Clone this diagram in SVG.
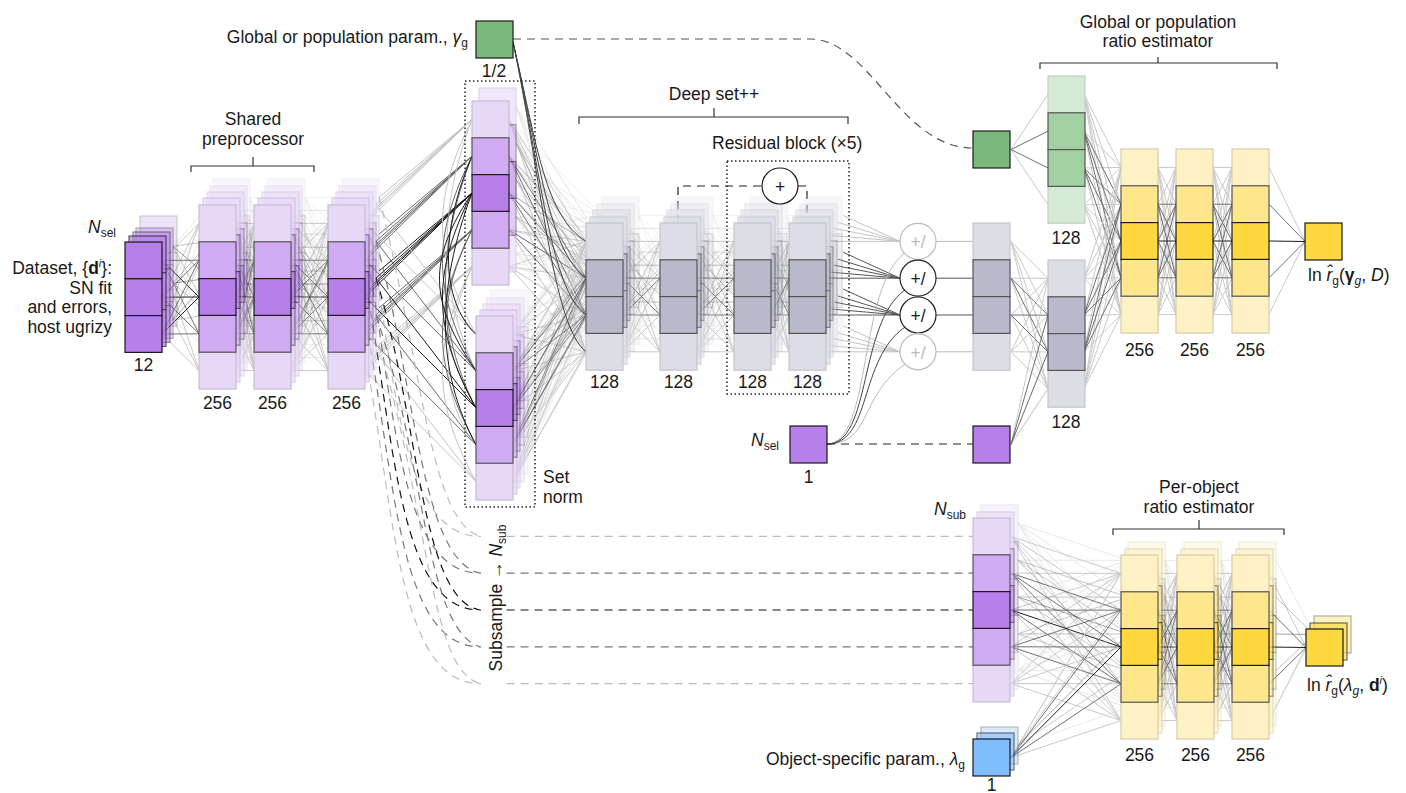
<svg xmlns="http://www.w3.org/2000/svg" xmlns:xlink="http://www.w3.org/1999/xlink" width="1406" height="793" viewBox="0 0 1406 793">
<style>
text{font-family:"Liberation Sans",Arial,sans-serif;font-size:17.5px;fill:#1a1a1a}
.sub{font-size:12px}
.k0,.k1,.k2{fill:none;stroke-width:1;vector-effect:non-scaling-stroke}
.k0{stroke:#c9c9c9}.k1{stroke:#707070}.k2{stroke:#1c1c1c}
.pl{fill:#e7d8f8;stroke:#c6bcd4;stroke-width:1.2}
.pm{fill:#d0abf3;stroke:#555;stroke-width:1.2}
.pd{fill:#b57ee9;stroke:#1a1a1a;stroke-width:1.2}
.gl{fill:#dddde6;stroke:#c5c5ce;stroke-width:1.2}
.gd{fill:#b9b9cc;stroke:#555;stroke-width:1.2}
.rl{fill:#d4ead4;stroke:#c3cfc3;stroke-width:1.2}
.rm{fill:#a2d0a3;stroke:#555;stroke-width:1.2}
.yl{fill:#fef2c4;stroke:#d4ccab;stroke-width:1.2}
.ym{fill:#fde68b;stroke:#555;stroke-width:1.2}
.yd{fill:#fdd93f;stroke:#1a1a1a;stroke-width:1.2}
.gb{fill:#7bb87b;stroke:#1a1a1a;stroke-width:1.2}
.bb{fill:#80bdfd;stroke:#1a1a1a;stroke-width:1.2}
.dot{fill:none;stroke:#222;stroke-width:1.5;stroke-dasharray:1.5 2.5}
.brk{fill:none;stroke:#333;stroke-width:1.2}
.dash{fill:none;stroke-width:1.2;stroke-dasharray:8 6}
.ln{fill:none;stroke-width:1}
.agg circle{fill:#fff;stroke-width:1.2}
</style>
<defs>
<g id="P5"><rect class="pl" width="37" height="36.8"/><rect class="pl" y="147.2" width="37" height="36.8"/><rect class="pm" y="36.8" width="37" height="36.8"/><rect class="pm" y="110.4" width="37" height="36.8"/><rect class="pd" y="73.6" width="37" height="36.8"/></g>
<g id="P3"><rect class="pd" width="37" height="36.8"/><rect class="pd" y="36.8" width="37" height="36.8"/><rect class="pd" y="73.6" width="37" height="36.8"/></g>
<g id="G4"><rect class="gl" width="37" height="36.8"/><rect class="gl" y="110.4" width="37" height="36.8"/><rect class="gd" y="36.8" width="37" height="36.8"/><rect class="gd" y="73.6" width="37" height="36.8"/></g>
<g id="R4"><rect class="rl" width="37" height="36.8"/><rect class="rl" y="110.4" width="37" height="36.8"/><rect class="rm" y="36.8" width="37" height="36.8"/><rect class="rm" y="73.6" width="37" height="36.8"/></g>
<g id="Y5"><rect class="yl" width="37" height="36.8"/><rect class="yl" y="147.2" width="37" height="36.8"/><rect class="ym" y="36.8" width="37" height="36.8"/><rect class="ym" y="110.4" width="37" height="36.8"/><rect class="yd" y="73.6" width="37" height="36.8"/></g>
<g id="F55"><path class="k0" d="M0 18.4L100 18.4M0 18.4L100 55.2M0 18.4L100 92M0 18.4L100 128.8M0 18.4L100 165.6M0 165.6L100 18.4M0 165.6L100 55.2M0 165.6L100 92M0 165.6L100 128.8M0 165.6L100 165.6M0 55.2L100 18.4M0 55.2L100 165.6M0 92L100 18.4M0 92L100 165.6M0 128.8L100 18.4M0 128.8L100 165.6"/><path class="k1" d="M0 55.2L100 55.2M0 55.2L100 92M0 55.2L100 128.8M0 92L100 55.2M0 92L100 128.8M0 128.8L100 55.2M0 128.8L100 92M0 128.8L100 128.8"/><path class="k2" d="M0 92L100 92"/></g>
<g id="F44"><path class="k0" d="M0 18.4L100 18.4M0 18.4L100 55.2M0 18.4L100 92M0 18.4L100 128.8M0 128.8L100 18.4M0 128.8L100 55.2M0 128.8L100 92M0 128.8L100 128.8M0 55.2L100 18.4M0 55.2L100 128.8M0 92L100 18.4M0 92L100 128.8"/><path class="k1" d="M0 55.2L100 55.2M0 55.2L100 92M0 92L100 55.2M0 92L100 92"/></g>
<g id="F54"><path class="k0" d="M0 18.4L100 18.4M0 18.4L100 55.2M0 18.4L100 92M0 18.4L100 128.8M0 165.6L100 18.4M0 165.6L100 55.2M0 165.6L100 92M0 165.6L100 128.8M0 55.2L100 18.4M0 55.2L100 128.8M0 92L100 18.4M0 92L100 128.8M0 128.8L100 18.4M0 128.8L100 128.8"/><path class="k1" d="M0 55.2L100 55.2M0 55.2L100 92M0 92L100 55.2M0 92L100 92M0 128.8L100 55.2M0 128.8L100 92"/></g>
<g id="F35"><path class="k0" d="M0 18.4L100 18.4M0 18.4L100 165.6M0 55.2L100 18.4M0 55.2L100 165.6M0 92L100 18.4M0 92L100 165.6"/><path class="k1" d="M0 18.4L100 55.2M0 18.4L100 128.8M0 55.2L100 55.2M0 55.2L100 128.8M0 92L100 55.2M0 92L100 128.8"/><path class="k2" d="M0 18.4L100 92M0 55.2L100 92M0 92L100 92"/></g>
<g id="F45"><path class="k0" d="M0 18.4L100 18.4M0 18.4L100 55.2M0 18.4L100 92M0 18.4L100 128.8M0 18.4L100 165.6M0 128.8L100 18.4M0 128.8L100 55.2M0 128.8L100 92M0 128.8L100 128.8M0 128.8L100 165.6M0 55.2L100 18.4M0 55.2L100 165.6M0 92L100 18.4M0 92L100 165.6"/><path class="k1" d="M0 55.2L100 55.2M0 55.2L100 92M0 55.2L100 128.8M0 92L100 55.2M0 92L100 92M0 92L100 128.8"/></g>
<g id="F51"><path class="k0" d="M0 18.4L100 18.5M0 165.6L100 18.5"/><path class="k1" d="M0 55.2L100 18.5M0 128.8L100 18.5"/><path class="k2" d="M0 92L100 18.5"/></g>
<g id="F14"><path class="k0" d="M0 18.5L100 18.4M0 18.5L100 128.8"/><path class="k1" d="M0 18.5L100 55.2M0 18.5L100 92"/></g>
<g id="F15"><path class="k0" d="M0 18.5L100 18.4M0 18.5L100 165.6"/><path class="k1" d="M0 18.5L100 55.2M0 18.5L100 128.8"/><path class="k2" d="M0 18.5L100 92"/></g>
</defs>
<rect width="1406" height="793" fill="#fff"/>

<g id="connectors">
<use href="#F35" transform="matrix(.37 -.37 0 1 162 242)"/>
<use href="#F35" transform="matrix(.37 -.42 0 1 173 228)" opacity=".4"/>
<use href="#F55" transform="matrix(.18 0 0 1 236 205)"/>
<use href="#F55" transform="matrix(.18 0 0 1 244 192)" opacity=".45"/>
<use href="#F55" transform="matrix(.18 0 0 1 250 179)" opacity=".25"/>
<use href="#F55" transform="matrix(.37 0 0 1 291 205)"/>
<use href="#F55" transform="matrix(.37 0 0 1 299 192)" opacity=".45"/>
<use href="#F55" transform="matrix(.37 0 0 1 305 179)" opacity=".25"/>
<path class="ln" stroke="#c4c4c4" d="M365 223.4L472 119.4M369 216.4L472 119.4M373 210.4L472 119.4M376 204.4L472 119.4M379 197.4L472 119.4M365 370.6L472 266.6M369 363.6L472 266.6M373 357.6L472 266.6M376 351.6L472 266.6M379 344.6L472 266.6"/>
<path class="ln" stroke="#6a6a6a" d="M365 260.2L472 156.2M369 253.2L472 156.2M373 247.2L472 156.2M376 241.2L472 156.2M379 234.2L472 156.2M365 333.8L472 229.8M369 326.8L472 229.8M373 320.8L472 229.8M376 314.8L472 229.8M379 307.8L472 229.8"/>
<path class="ln" stroke="#1c1c1c" d="M365 297L472 193M369 290L472 193M373 284L472 193M376 278L472 193M379 271L472 193"/>
<path class="ln" stroke="#c4c4c4" d="M365 223.4L476 334.4M376 204.4L476 334.4M365 370.6L476 481.6M376 351.6L476 481.6"/>
<path class="ln" stroke="#6a6a6a" d="M365 260.2L476 371.2M376 241.2L476 371.2M365 333.8L476 444.8M376 314.8L476 444.8"/>
<path class="ln" stroke="#1c1c1c" d="M365 297L476 408M376 278L476 408"/>
<path class="ln" stroke="#c4c4c4" d="M472 119.4C432 200 432 254 476 334.4M472 266.6C432 347 432 401 476 481.6M472 119.4C438 210 438 290 476 371.2M472 266.6C440 340 440 400 476 444.8"/>
<path class="ln" stroke="#6a6a6a" d="M472 156.2C432 236 432 291 476 371.2M472 229.8C432 310 432 364 476 444.8M472 156.2C436 250 436 330 476 408M472 229.8C438 300 438 340 476 408"/>
<path class="ln" stroke="#1c1c1c" d="M472 193C432 273 432 328 476 408M472 193C428 260 428 300 476 371.2M472 193C436 290 436 370 476 444.8M472 156.2C440 230 440 300 476 334.4"/>
<use href="#F54" transform="matrix(.77 1.22 0 1 509 101)"/>
<use href="#F54" transform="matrix(.77 1.22 0 1 516 88)" opacity=".45"/>
<use href="#F54" transform="matrix(.93 .96 0 1 509 101)" opacity=".3"/>
<use href="#F54" transform="matrix(.73 -.93 0 1 513 316)"/>
<use href="#F54" transform="matrix(.73 -.94 0 1 520 304)" opacity=".45"/>
<use href="#F54" transform="matrix(.74 -.93 0 1 528 290)" opacity=".3"/>
<use href="#F54" transform="matrix(.89 -1.19 0 1 513 316)" opacity=".3"/>
<path class="ln" stroke="#444" d="M513 42C538 150 545 215 586 241.4M513 42C540 160 548 250 586 278.2M513 42C541 170 550 290 586 315M513 42C542 180 552 325 586 351.8"/>
<use href="#F44" transform="matrix(.37 0 0 1 623 223)"/>
<use href="#F44" transform="matrix(.37 0 0 1 630 210)" opacity=".45"/>
<use href="#F44" transform="matrix(.37 0 0 1 639 197)" opacity=".25"/>
<use href="#F44" transform="matrix(.37 0 0 1 697 223)"/>
<use href="#F44" transform="matrix(.37 0 0 1 704 210)" opacity=".45"/>
<use href="#F44" transform="matrix(.37 0 0 1 713 197)" opacity=".25"/>
<use href="#F44" transform="matrix(.18 0 0 1 771 223)"/>
<use href="#F44" transform="matrix(.18 0 0 1 778 210)" opacity=".45"/>
<use href="#F44" transform="matrix(.18 0 0 1 787 197)" opacity=".25"/>
<path class="ln" stroke="#c4c4c4" d="M827 241.4L900 241.4M831 235.4L900 241.4M834 228.4L900 241.4M838 222.4L900 241.4M843 215.4L900 241.4M827 351.8L900 351.8M831 345.8L900 351.8M834 338.8L900 351.8M838 332.8L900 351.8M843 325.8L900 351.8"/>
<path class="ln" stroke="#555" d="M827 278.2L900 278.2M831 272.2L900 278.2M834 265.2L900 278.2M838 259.2L900 278.2M843 252.2L900 278.2M827 315L900 315M831 309L900 315M834 302L900 315M838 296L900 315M843 289L900 315"/>
<path class="ln" stroke="#bbb" d="M827 444C872 444 858 286 905 253M827 444C872 444 858 397 905 364"/>
<path class="ln" stroke="#444" d="M827 444C872 444 858 323 905 290M827 444C872 444 858 360 905 327"/>
<path class="ln" stroke="#bbb" d="M936 241.4H973M936 351.8H973"/>
<path class="ln" stroke="#555" d="M936 278.2H973M936 315H973"/>
<use href="#F44" transform="matrix(.37 .37 0 1 1011 223)"/>
<use href="#F14" transform="matrix(.37 -1.66 0 1 1011 426)"/>
<use href="#F14" transform="matrix(.37 -.55 0 1 1011 131)"/>
<use href="#F45" transform="matrix(.37 .73 0 1 1084 76)"/>
<use href="#F45" transform="matrix(.37 -1.11 0 1 1084 260)"/>
<use href="#F55" transform="matrix(.18 0 0 1 1158 149)"/>
<use href="#F55" transform="matrix(.19 0 0 1 1213 149)"/>
<use href="#F51" transform="matrix(.36 .74 0 1 1269 149)"/>
<use href="#F55" transform="matrix(1.1 .37 0 1 1011 518)"/>
<use href="#F55" transform="matrix(1.1 .37 0 1 1018 505)" opacity=".4"/>
<use href="#F15" transform="matrix(1.1 -1.84 0 1 1011 739)"/>
<use href="#F15" transform="matrix(1.1 -1.85 0 1 1018 727)" opacity=".35"/>
<use href="#F55" transform="matrix(.19 0 0 1 1158 555)"/>
<use href="#F55" transform="matrix(.19 0 0 1 1165 542)" opacity=".4"/>
<use href="#F55" transform="matrix(.18 0 0 1 1214 555)"/>
<use href="#F55" transform="matrix(.18 0 0 1 1221 542)" opacity=".4"/>
<use href="#F51" transform="matrix(.37 .74 0 1 1269 555)"/>
<use href="#F51" transform="matrix(.38 .74 0 1 1276 542)" opacity=".4"/>
<path class="dash" stroke="#555" d="M513 39H810C870 39 900 148 973 148"/>
<path class="dash" stroke="#222" d="M827 444H973"/>
<path class="dash" stroke="#222" stroke-dasharray="7 5" d="M678 223V186H762M798 186H807V217"/>
<path class="dash" stroke="#bbb" d="M368 223.4C395 373 400 536.4 480 536.4H973M379 197C425 380 430 520 480 536.4"/>
<path class="dash" stroke="#777" d="M368 260.2C395 410 400 573.2 480 573.2H973M376 241C415 380 420 560 480 573.2"/>
<path class="dash" stroke="#111" d="M368 297C395 447 400 610 480 610H973M376 278C420 420 420 600 480 610"/>
<path class="dash" stroke="#777" d="M368 333.8C395 484 400 646.8 480 646.8H973M376 315C425 460 425 630 480 646.8"/>
<path class="dash" stroke="#bbb" d="M368 370.6C395 520 400 683.6 480 683.6H973M379 345C430 520 430 670 480 683.6"/>
</g>

<g id="input">
<use href="#P3" x="140" y="216" opacity=".22"/>
<use href="#P3" x="136" y="228" opacity=".35"/>
<use href="#P3" x="133" y="232" opacity=".5"/>
<use href="#P3" x="129" y="236" opacity=".7"/>
<use href="#P3" x="125" y="242"/>
</g>
<g id="pp1">
<use href="#P5" x="213" y="179" opacity=".22"/><use href="#P5" x="210" y="186" opacity=".35"/><use href="#P5" x="207" y="192" opacity=".5"/><use href="#P5" x="203" y="198" opacity=".7"/><use href="#P5" x="199" y="205"/>
</g>
<g id="pp2">
<use href="#P5" x="268" y="179" opacity=".22"/><use href="#P5" x="265" y="186" opacity=".35"/><use href="#P5" x="262" y="192" opacity=".5"/><use href="#P5" x="258" y="198" opacity=".7"/><use href="#P5" x="254" y="205"/>
</g>
<g id="pp3">
<use href="#P5" x="342" y="179" opacity=".22"/><use href="#P5" x="339" y="186" opacity=".35"/><use href="#P5" x="336" y="192" opacity=".5"/><use href="#P5" x="332" y="198" opacity=".7"/><use href="#P5" x="328" y="205"/>
</g>
<g id="set-norm-upper">
<use href="#P5" x="479" y="88" opacity=".6"/><use href="#P5" x="472" y="101"/>
</g>
<g id="set-norm-lower">
<use href="#P5" x="491" y="290" opacity=".22"/><use href="#P5" x="487" y="298" opacity=".35"/><use href="#P5" x="483" y="304" opacity=".5"/><use href="#P5" x="480" y="310" opacity=".7"/><use href="#P5" x="476" y="316"/>
</g>
<g id="set-norm-box"><rect class="dot" x="465" y="81" width="70" height="426"/></g>
<g id="global-param-in"><rect class="gb" x="476" y="21" width="37" height="37"/></g>
<g id="ds1"><use href="#G4" x="602" y="197" opacity=".22"/><use href="#G4" x="597" y="204" opacity=".35"/><use href="#G4" x="593" y="210" opacity=".5"/><use href="#G4" x="590" y="217" opacity=".7"/><use href="#G4" x="586" y="223"/></g>
<g id="ds2"><use href="#G4" x="676" y="197" opacity=".22"/><use href="#G4" x="671" y="204" opacity=".35"/><use href="#G4" x="667" y="210" opacity=".5"/><use href="#G4" x="664" y="217" opacity=".7"/><use href="#G4" x="660" y="223"/></g>
<g id="ds3"><use href="#G4" x="750" y="197" opacity=".22"/><use href="#G4" x="745" y="204" opacity=".35"/><use href="#G4" x="741" y="210" opacity=".5"/><use href="#G4" x="738" y="217" opacity=".7"/><use href="#G4" x="734" y="223"/></g>
<g id="ds4"><use href="#G4" x="805" y="197" opacity=".22"/><use href="#G4" x="800" y="204" opacity=".35"/><use href="#G4" x="796" y="210" opacity=".5"/><use href="#G4" x="793" y="217" opacity=".7"/><use href="#G4" x="789" y="223"/></g>
<g id="residual-block"><rect class="dot" x="727" y="161" width="122" height="233"/><circle cx="780" cy="186" r="18" fill="#fff" stroke="#1a1a1a" stroke-width="1.2"/><text x="780" y="193" text-anchor="middle" font-size="21">+</text></g>
<g id="aggregators" class="agg">
<circle cx="918" cy="241.4" r="18" stroke="#bbb"/><text x="918" y="248.4" text-anchor="middle" font-size="20" style="fill:#bbb">+/</text>
<circle cx="918" cy="278.2" r="18" stroke="#222"/><text x="918" y="285.2" text-anchor="middle" font-size="20">+/</text>
<circle cx="918" cy="315" r="18" stroke="#222"/><text x="918" y="322" text-anchor="middle" font-size="20">+/</text>
<circle cx="918" cy="351.8" r="18" stroke="#bbb"/><text x="918" y="358.8" text-anchor="middle" font-size="20" style="fill:#bbb">+/</text>
</g>
<g id="pooled"><use href="#G4" x="973" y="223"/></g>
<g id="nsel-in"><rect class="pd" x="790" y="426" width="37" height="37"/></g>
<g id="nsel-out"><rect class="pd" x="973" y="426" width="37" height="37"/></g>
<g id="global-param-emb"><rect class="gb" x="973" y="131" width="37" height="37"/></g>
<g id="green-128"><use href="#R4" x="1048" y="76"/></g>
<g id="gray-128"><use href="#G4" x="1048" y="260"/></g>
<g id="yg1"><use href="#Y5" x="1121" y="149"/></g>
<g id="yg2"><use href="#Y5" x="1176" y="149"/></g>
<g id="yg3"><use href="#Y5" x="1232" y="149"/></g>
<g id="out-global"><rect class="yd" x="1305" y="223" width="37" height="37"/></g>
<g id="nsub"><use href="#P5" x="981" y="505" opacity=".3"/><use href="#P5" x="977" y="512" opacity=".6"/><use href="#P5" x="973" y="518"/></g>
<g id="lambda"><rect class="bb" x="981" y="727" width="37" height="37" opacity=".3"/><rect class="bb" x="977" y="733" width="37" height="37" opacity=".6"/><rect class="bb" x="973" y="739" width="37" height="37"/></g>
<g id="po1"><use href="#Y5" x="1128" y="542" opacity=".35"/><use href="#Y5" x="1125" y="549" opacity=".65"/><use href="#Y5" x="1121" y="555"/></g>
<g id="po2"><use href="#Y5" x="1184" y="542" opacity=".35"/><use href="#Y5" x="1181" y="549" opacity=".65"/><use href="#Y5" x="1177" y="555"/></g>
<g id="po3"><use href="#Y5" x="1239" y="542" opacity=".35"/><use href="#Y5" x="1236" y="549" opacity=".65"/><use href="#Y5" x="1232" y="555"/></g>
<g id="out-po"><rect class="yd" x="1314" y="616" width="37" height="37" opacity=".35"/><rect class="yd" x="1310" y="623" width="37" height="37" opacity=".65"/><rect class="yd" x="1306" y="629" width="37" height="37"/></g>

<g id="labels">
<path class="brk" d="M191 172V166H314V172M253 166V157"/>
<path class="brk" d="M579 124V117H848V124M714 117V108"/>
<path class="brk" d="M1040 69V63H1277V69M1158 63V57"/>
<path class="brk" d="M1113 535V529H1284V535M1199 529V520"/>
<text x="468" y="43" text-anchor="end">Global or population param., <tspan font-style="italic">γ</tspan><tspan class="sub" dy="4">g</tspan></text>
<text x="494" y="77" text-anchor="middle">1/2</text>
<text x="253" y="125" text-anchor="middle">Shared</text>
<text x="253" y="145" text-anchor="middle">preprocessor</text>
<text x="88" y="233"><tspan font-style="italic">N</tspan><tspan class="sub" dy="4">sel</tspan></text>
<text x="112" y="274" text-anchor="end">Dataset, {<tspan font-weight="bold">d</tspan><tspan font-size="11" font-style="italic" dy="-7">i</tspan><tspan dy="7">}:</tspan></text>
<text x="112" y="294" text-anchor="end">SN fit</text>
<text x="112" y="313" text-anchor="end">and errors,</text>
<text x="112" y="333" text-anchor="end">host ugrizy</text>
<text x="143.5" y="371" text-anchor="middle">12</text>
<text x="217.5" y="409" text-anchor="middle">256</text>
<text x="272.5" y="409" text-anchor="middle">256</text>
<text x="346.5" y="409" text-anchor="middle">256</text>
<text x="543" y="483">Set</text>
<text x="543" y="503">norm</text>
<text x="714" y="100" text-anchor="middle">Deep set++</text>
<text x="712" y="149">Residual block (×5)</text>
<text x="604.5" y="388" text-anchor="middle">128</text>
<text x="678.5" y="388" text-anchor="middle">128</text>
<text x="752.5" y="388" text-anchor="middle">128</text>
<text x="807.5" y="388" text-anchor="middle">128</text>
<text x="751" y="446"><tspan font-style="italic">N</tspan><tspan class="sub" dy="4">sel</tspan></text>
<text x="808.5" y="483" text-anchor="middle">1</text>
<text x="1158" y="28" text-anchor="middle">Global or population</text>
<text x="1158" y="47" text-anchor="middle">ratio estimator</text>
<text x="1066" y="244" text-anchor="middle">128</text>
<text x="1066" y="428" text-anchor="middle">128</text>
<text x="1139.5" y="356" text-anchor="middle">256</text>
<text x="1194.5" y="356" text-anchor="middle">256</text>
<text x="1250.5" y="356" text-anchor="middle">256</text>
<text x="1308" y="281">ln <tspan font-style="italic">r̂</tspan><tspan class="sub" dy="4">g</tspan><tspan dy="-4">(</tspan><tspan font-weight="bold">γ</tspan><tspan class="sub" font-style="italic" dy="4">g</tspan><tspan dy="-4">, </tspan><tspan font-style="italic">D</tspan>)</text>
<rect x="481" y="520" width="21" height="170" fill="#fff"/>
<text transform="translate(502 598) rotate(-90)" text-anchor="middle">Subsample → <tspan font-style="italic">N</tspan><tspan class="sub" dy="4">sub</tspan></text>
<text x="934" y="515"><tspan font-style="italic">N</tspan><tspan class="sub" dy="4">sub</tspan></text>
<text x="965" y="765" text-anchor="end">Object-specific param., <tspan font-style="italic">λ</tspan><tspan class="sub" dy="4">g</tspan></text>
<text x="991.5" y="791" text-anchor="middle">1</text>
<text x="1199" y="493" text-anchor="middle">Per-object</text>
<text x="1199" y="513" text-anchor="middle">ratio estimator</text>
<text x="1139.5" y="761" text-anchor="middle">256</text>
<text x="1195.5" y="761" text-anchor="middle">256</text>
<text x="1250.5" y="761" text-anchor="middle">256</text>
<text x="1307" y="691">ln <tspan font-style="italic">r̂</tspan><tspan class="sub" dy="4">g</tspan><tspan dy="-4">(</tspan><tspan font-style="italic">λ</tspan><tspan class="sub" font-style="italic" dy="4">g</tspan><tspan dy="-4">, </tspan><tspan font-weight="bold">d</tspan><tspan font-size="11" font-style="italic" dy="-7">i</tspan><tspan dy="7">)</tspan></text>
</g>
</svg>
